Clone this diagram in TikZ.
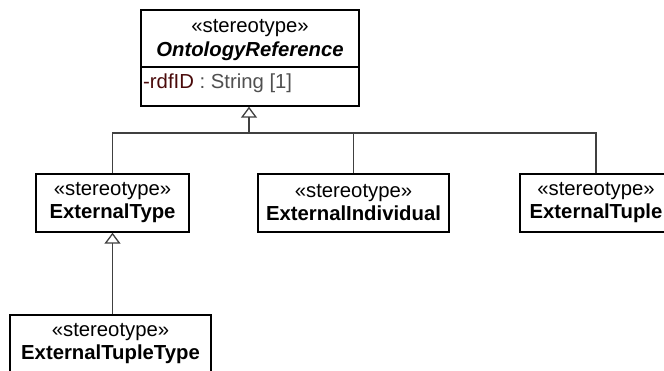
\documentclass[tikz,border=0pt]{standalone}
\usepackage{fontspec}
\setmainfont{Liberation Sans}
\usetikzlibrary{arrows.meta}
\definecolor{attrred}{HTML}{4A0A0A}
\definecolor{attrgray}{HTML}{505050}
\definecolor{linegray}{HTML}{404040}
\tikzset{
  umlbox/.style={draw=black, line width=1.4pt, fill=white, inner sep=0pt, align=center,
    font=\fontsize{20.3}{23}\selectfont},
  gen/.style={draw=linegray, line width=1.4pt, -{Triangle[open, length=11pt, width=16pt, line width=1.3pt]}},
  conn/.style={draw=linegray, line width=1.4pt},
  txt/.style={inner sep=0pt, font=\fontsize{20.3}{23}\selectfont}
}
\begin{document}
\begin{tikzpicture}[x=1pt,y=-1pt]
\useasboundingbox (0,0) rectangle (664,370);
% top class
\node[umlbox, minimum width=218pt, minimum height=96pt] (or) at (250,58) {};
\node[txt] (orst) at (250,28) {«stereotype»};
\node[txt, font=\fontsize{20.3}{23}\selectfont\bfseries\itshape] (orname) at (250,51) {OntologyReference};
\draw[line width=1.4pt] (or.west |- 0,67) coordinate (sepl) -- (or.east |- 0,67) coordinate (sepr);
\node[txt, anchor=west] (orattr) at (143,83) {\textcolor{attrred}{-rdfID}\textcolor{attrgray}{\ : String [1]}};
% second row
\node[umlbox, minimum width=153pt, minimum height=58pt] (et) at (112.5,203) {«stereotype»\\\textbf{ExternalType}};
\node[umlbox, minimum width=191pt, minimum height=58pt] (ei) at (353.5,203) {«stereotype»\\\textbf{ExternalIndividual}};
\node[umlbox, minimum width=152pt, minimum height=58pt] (etu) at (596,203) {«stereotype»\\\textbf{ExternalTuple}};
% third row
\node[umlbox, minimum width=201pt, minimum height=58pt] (ett) at (110.5,344) {«stereotype»\\\textbf{ExternalTupleType}};
% connectors
\coordinate (bus) at (249,133);
\draw[gen] (et.north) |- (bus) -- (bus |- or.south);
\draw[conn] (ei.north) |- (bus);
\draw[conn] (etu.north) |- (bus);
\draw[gen] (ett.north -| et.south) -- (et.south);
\end{tikzpicture}
\end{document}
